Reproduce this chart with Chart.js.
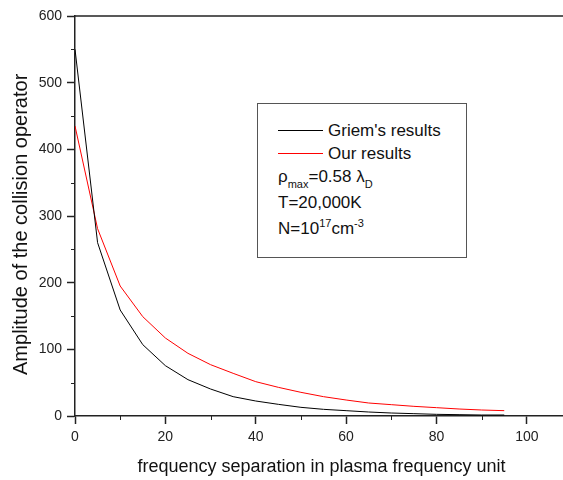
<!DOCTYPE html>
<html lang="en">
<head>
    <meta charset="UTF-8">
    <title>Collision operator amplitude</title>
    <script src="https://cdn.jsdelivr.net/npm/chart.js"></script>
    <style>
        body {
            margin: 0;
            background: #fff;
            font-family: 'Liberation Sans', Arial, sans-serif;
        }

        .wrap {
            position: relative;
            width: 563px;
            height: 480px;
        }

        /* legend box drawn over the plot */
        .legend-box {
            position: absolute;
            left: 257px;
            top: 103px;
            width: 208px;
            height: 153px;
            border: 1.5px solid #555;
            background: #fff;
        }

        .legend-box .row {
            position: absolute;
            font-size: 17px;
            line-height: 17px;
            color: #111;
            white-space: nowrap;
        }

        .legend-box .swatch {
            position: absolute;
            width: 45px;
            height: 1px;
        }

        .sub {
            font-size: 11px;
            position: relative;
            top: 6px;
        }

        .sup {
            font-size: 11px;
            position: relative;
            top: -7px;
        }
    </style>
</head>
<body>
    <div class="wrap">
        <canvas id="chart" width="563" height="480"></canvas>
        <div class="legend-box" id="legendBox"></div>
    </div>

    <script>
        // frequency separation (plasma frequency units)
        const freq = [0, 5, 10, 15, 20, 25, 30, 35, 40, 45, 50, 55, 60, 65, 70, 75, 80, 85, 90, 95];
        const griem = [550, 260, 159, 107, 75.5, 54.5, 40.5, 29, 22.5, 17.5, 13, 10, 8, 6, 4.5, 3.5, 2.5, 2, 1.5, 1.5];
        const ours = [435, 281, 195, 149, 117, 94, 77, 64, 51.5, 43, 35.5, 29, 24, 19.5, 17, 14.5, 12.5, 10.5, 9, 8];

        const seriesNames = ["Griem's results", 'Our results'];
        const seriesColors = ['#000000', '#ff0000'];

        const xTicks = [0, 20, 40, 60, 80, 100];
        const xMinor = [10, 30, 50, 70, 90];
        const yTicks = [0, 100, 200, 300, 400, 500, 600];
        const yMinor = [50, 150, 250, 350, 450, 550];

        const axisColor = '#222';
        const font = "'Liberation Sans', Arial, sans-serif";

        // short minor ticks + top frame line
        const frameAndMinor = {
            id: 'frameAndMinor',
            afterDraw(chart) {
                const ctx = chart.ctx;
                const area = chart.chartArea;
                const xs = chart.scales.x;
                const ys = chart.scales.y;
                ctx.save();
                ctx.strokeStyle = axisColor;
                ctx.lineWidth = 1.5;
                ctx.beginPath();
                ctx.moveTo(area.left, area.top);
                ctx.lineTo(area.right, area.top);
                ctx.stroke();

                ctx.lineWidth = 1;
                ctx.beginPath();
                xMinor.forEach(v => {
                    const px = Math.round(xs.getPixelForValue(v)) + 0.5;
                    ctx.moveTo(px, area.bottom);
                    ctx.lineTo(px, area.bottom + 4);
                });
                yMinor.forEach(v => {
                    const py = Math.round(ys.getPixelForValue(v)) + 0.5;
                    ctx.moveTo(area.left, py);
                    ctx.lineTo(area.left - 4, py);
                });
                ctx.stroke();
                ctx.restore();
            }
        };

        const ctx = document.getElementById('chart').getContext('2d');

        new Chart(ctx, {
            type: 'line',
            data: {
                datasets: [griem, ours].map((vals, i) => ({
                    label: seriesNames[i],
                    data: freq.map((f, j) => ({ x: f, y: vals[j] })),
                    borderColor: seriesColors[i],
                    borderWidth: 1,
                    pointRadius: 0,
                    tension: 0,
                    fill: false
                }))
            },
            options: {
                responsive: false,
                animation: false,
                layout: {
                    padding: { left: 0, right: 0, top: 16, bottom: 0 }
                },
                plugins: {
                    legend: { display: false },
                    tooltip: { enabled: false }
                },
                scales: {
                    x: {
                        type: 'linear',
                        min: 0,
                        max: 108,
                        afterBuildTicks: scale => {
                            scale.ticks = xTicks.map(v => ({ value: v }));
                        },
                        afterFit: scale => {
                            scale.height = 64;
                        },
                        grid: {
                            drawOnChartArea: false,
                            drawTicks: true,
                            tickLength: 8,
                            tickColor: axisColor,
                            tickWidth: 1.5
                        },
                        border: { display: true, color: axisColor, width: 1.5 },
                        ticks: {
                            color: '#222',
                            padding: 5,
                            maxRotation: 0,
                            font: { family: font, size: 14 }
                        },
                        title: {
                            display: true,
                            // leading space nudges the centred title slightly right
                            text: ' frequency separation in plasma frequency unit',
                            color: '#111',
                            padding: { top: 0, bottom: 2 },
                            font: { family: font, size: 18 }
                        }
                    },
                    y: {
                        min: 0,
                        max: 600,
                        afterBuildTicks: scale => {
                            scale.ticks = yTicks.map(v => ({ value: v }));
                        },
                        afterFit: scale => {
                            scale.width = 75;
                        },
                        grid: {
                            drawOnChartArea: false,
                            drawTicks: true,
                            tickLength: 8,
                            tickColor: axisColor,
                            tickWidth: 1.5
                        },
                        border: { display: true, color: axisColor, width: 1.5 },
                        ticks: {
                            color: '#222',
                            padding: 5,
                            font: { family: font, size: 14 }
                        },
                        title: {
                            display: true,
                            // trailing spaces push the rotated title a bit lower, as in the original
                            text: 'Amplitude of the collision operator   ',
                            color: '#111',
                            padding: { top: 9, bottom: 0 },
                            font: { family: font, size: 20 }
                        }
                    }
                }
            },
            plugins: [frameAndMinor]
        });

        // legend contents (HTML so the sub/superscripts stay as text)
        const box = document.getElementById('legendBox');
        const rows = [
            { top: 26, left: 20, swatch: 0 },
            { top: 49, left: 20, swatch: 1 }
        ];
        rows.forEach(r => {
            const line = document.createElement('div');
            line.className = 'swatch';
            line.style.left = r.left + 'px';
            line.style.top = r.top + 'px';
            line.style.background = seriesColors[r.swatch];
            box.appendChild(line);

            const txt = document.createElement('div');
            txt.className = 'row';
            txt.style.left = (r.left + 50) + 'px';
            txt.style.top = (r.top - 8) + 'px';
            txt.textContent = seriesNames[r.swatch];
            box.appendChild(txt);
        });

        const notes = [
            { top: 64, html: '\u03C1<span class="sub">max</span>=0.58 \u03BB<span class="sub">D</span>' },
            { top: 90, html: 'T=20,000K' },
            { top: 116, html: 'N=10<span class="sup">17</span>cm<span class="sup">-3</span>' }
        ];
        notes.forEach(n => {
            const d = document.createElement('div');
            d.className = 'row';
            d.style.left = '20px';
            d.style.top = n.top + 'px';
            d.innerHTML = n.html;
            box.appendChild(d);
        });
    </script>
</body>
</html>
